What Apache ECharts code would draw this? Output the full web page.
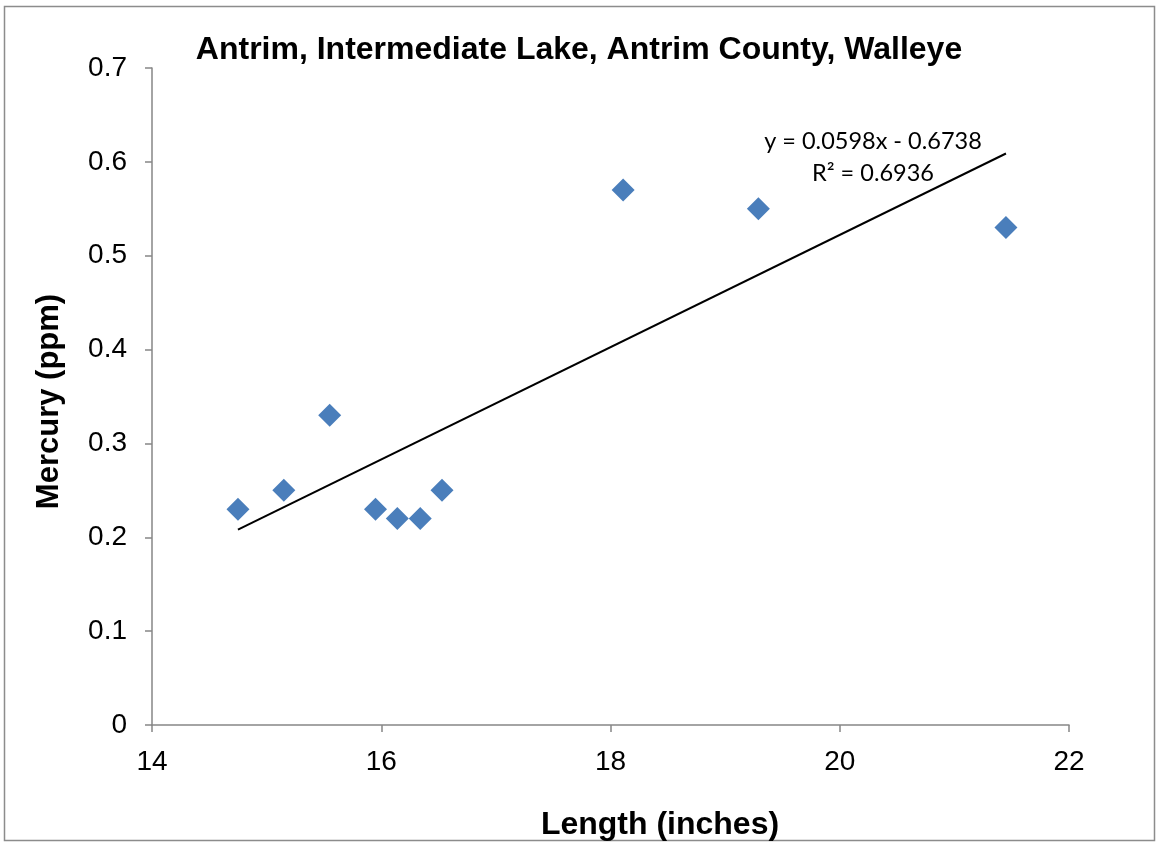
<!DOCTYPE html>
<html><head><meta charset="utf-8">
<script src="https://cdn.jsdelivr.net/npm/echarts@6/dist/echarts.min.js"></script>
<style>html,body{margin:0;padding:0;background:#fff}#c{width:1156px;height:842px}</style>
</head><body><div id="c"></div>
<script>
var lengths = [14.75, 15.15, 15.55, 15.95, 16.14, 16.34, 16.53, 18.11, 19.29, 21.45];
var mercury = [0.23, 0.25, 0.33, 0.23, 0.22, 0.22, 0.25, 0.57, 0.55, 0.53];
var trendSlope = 0.0598;
var trendIntercept = -0.6738;
var trendLabel = ['y = 0.0598x - 0.6738', 'R² = 0.6936'];
var xTicks = [14, 16, 18, 20, 22];
var yTicks = [0, 0.1, 0.2, 0.3, 0.4, 0.5, 0.6, 0.7];

var pts = lengths.map(function(x, i){ return [x, mercury[i]]; });
var xMin = Math.min.apply(null, lengths), xMax = Math.max.apply(null, lengths);
var trend = [[xMin, trendSlope*xMin + trendIntercept], [xMax, trendSlope*xMax + trendIntercept]];

var chart = echarts.init(document.getElementById('c'), null, {renderer:'canvas'});
var axisGray = '#868686';
chart.setOption({
  animation: false,
  backgroundColor: '#fff',
  title: {
    text: 'Antrim, Intermediate Lake, Antrim County, Walleye',
    left: 574, top: 29, textAlign: 'center',
    textStyle: {fontFamily: 'Liberation Sans', fontWeight: 'bold', fontSize: 32, color: '#000'}
  },
  graphic: [{
    type: 'rect', shape: {x: 4.5, y: 6.5, width: 1150, height: 834},
    style: {fill: 'none', stroke: '#8c8c8c', lineWidth: 1.5}, silent: true, z: -1
  }, {
    type: 'text', x: 873, y: 125,
    style: {text: trendLabel.join('\n'), align: 'center', verticalAlign: 'top', font: '23.5px Lato, "Open Sans", sans-serif', fill: '#000', lineHeight: 32}
  }],
  grid: {left: 152, right: 87, top: 68, bottom: 117, containLabel: false, outerBoundsMode: 'none'},
  xAxis: {
    type: 'value', min: 14, max: 22, interval: 2,
    name: 'Length (inches)', nameLocation: 'middle', nameGap: 84,
    nameTextStyle: {fontFamily: 'Liberation Sans', fontWeight: 'bold', fontSize: 32, color: '#000', padding: [0, 0, 0, 99]},
    axisLine: {show: true, onZero: false, lineStyle: {color: axisGray, width: 1.5}},
    axisTick: {show: true, length: 7, lineStyle: {color: axisGray, width: 1.5}},
    axisLabel: {fontFamily: 'Liberation Sans', fontSize: 28, color: '#000', margin: 23},
    splitLine: {show: false}
  },
  yAxis: {
    type: 'value', min: 0, max: 0.7, interval: 0.1,
    name: 'Mercury (ppm)', nameLocation: 'middle', nameGap: 87, nameRotate: 90,
    nameTextStyle: {fontFamily: 'Liberation Sans', fontWeight: 'bold', fontSize: 31, color: '#000', padding: [0, 10, 0, 0]},
    axisLine: {show: true, lineStyle: {color: axisGray, width: 1.5}},
    axisTick: {show: true, length: 7, lineStyle: {color: axisGray, width: 1.5}},
    axisLabel: {fontFamily: 'Liberation Sans', fontSize: 28, color: '#000', margin: 25,
      formatter: function(v){ return String(Math.round(v*10)/10); }},
    splitLine: {show: false}
  },
  series: [{
    type: 'line', data: trend, symbol: 'none', silent: true,
    lineStyle: {color: '#000', width: 2}, z: 2
  }, {
    type: 'scatter', data: pts, symbol: 'diamond', symbolSize: [23, 23],
    itemStyle: {color: '#4a7ebb', opacity: 1}, z: 3
  }]
});
</script></body></html>
